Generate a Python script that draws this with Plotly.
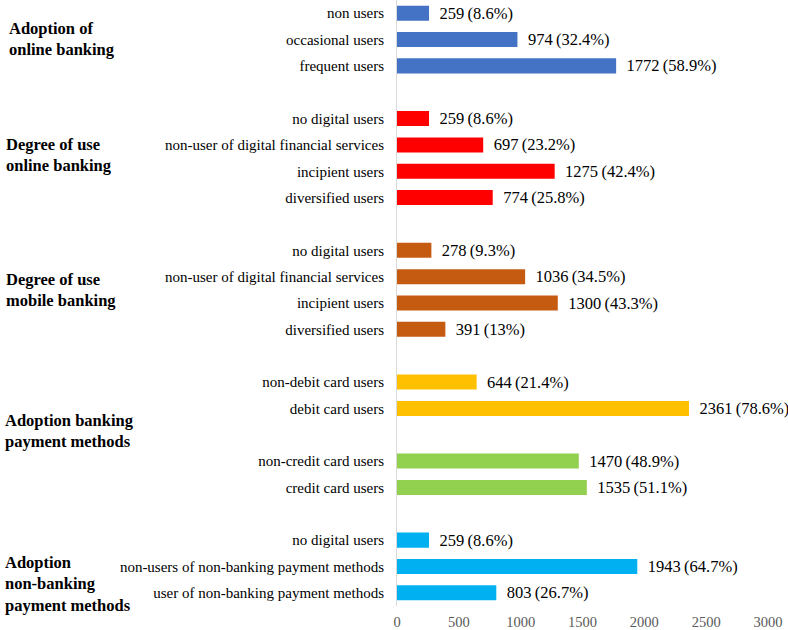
import plotly.graph_objects as go

# ---- data ----
g1_labels = ["non users", "occasional users", "frequent users"]
g1_values = [259, 974, 1772]
g1_pct = ["8.6%", "32.4%", "58.9%"]

g2_labels = ["no digital users", "non-user of digital financial services", "incipient users", "diversified users"]
g2_values = [259, 697, 1275, 774]
g2_pct = ["8.6%", "23.2%", "42.4%", "25.8%"]

g3_labels = ["no digital users", "non-user of digital financial services", "incipient users", "diversified users"]
g3_values = [278, 1036, 1300, 391]
g3_pct = ["9.3%", "34.5%", "43.3%", "13%"]

g4a_labels = ["non-debit card users", "debit card users"]
g4a_values = [644, 2361]
g4a_pct = ["21.4%", "78.6%"]

g4b_labels = ["non-credit card users", "credit card users"]
g4b_values = [1470, 1535]
g4b_pct = ["48.9%", "51.1%"]

g5_labels = ["no digital users", "non-users of non-banking payment methods", "user of non-banking payment methods"]
g5_values = [259, 1943, 803]
g5_pct = ["8.6%", "64.7%", "26.7%"]

group_titles = ["Adoption of<br>online banking",
                "Degree of use<br>online banking",
                "Degree of use<br>mobile banking",
                "Adoption banking<br>payment methods",
                "Adoption<br>non-banking<br>payment methods"]

x_ticks = [0, 500, 1000, 1500, 2000, 2500, 3000]

# ---- styling ----
FONT = "Liberation Serif, Times New Roman, serif"
subgroups = [
    (g1_labels, g1_values, g1_pct, "#4472C4", 0),
    (g2_labels, g2_values, g2_pct, "#FF0000", 1),
    (g3_labels, g3_values, g3_pct, "#C55A11", 2),
    (g4a_labels, g4a_values, g4a_pct, "#FFC000", 3),
    (g4b_labels, g4b_values, g4b_pct, "#92D050", 3),
    (g5_labels, g5_values, g5_pct, "#00B0F0", 4),
]
title_yshift = [1, 3, 0, 4, -18]
title_xshift = [-390, -393, -393, -394, -394]

fig = go.Figure()
tickvals, ticktext = [], []
title_pos = {}
slot = 0
for labels, values, pct, color, gi in subgroups:
    pos = list(range(slot, slot + len(labels)))
    slot += len(labels) + 1
    tickvals += pos
    ticktext += labels
    title_pos.setdefault(gi, []).extend(pos)
    fig.add_trace(go.Bar(
        x=values, y=pos, orientation="h",
        marker=dict(color=color, line=dict(width=0)),
        width=0.57,
        text=["\u00a0\u2009%d\u2009(%s)" % (v, p) for v, p in zip(values, pct)],
        textposition="outside",
        constraintext="none",
        textfont=dict(family=FONT, size=16.5, color="#000000"),
        cliponaxis=False,
        hoverinfo="skip",
        showlegend=False,
    ))

for gi, title in enumerate(group_titles):
    ps = title_pos[gi]
    fig.add_annotation(
        x=0, xref="paper", xanchor="left", xshift=title_xshift[gi],
        y=sum(ps) / len(ps), yref="y", yshift=title_yshift[gi],
        text="<b>%s</b>" % title, showarrow=False, align="left",
        font=dict(family=FONT, size=16.5, color="#000000"),
    )

fig.update_layout(
    width=788, height=630,
    margin=dict(l=397, r=20, t=0, b=24),
    plot_bgcolor="white", paper_bgcolor="white",
    xaxis=dict(range=[0, 3000], tickvals=x_ticks, showgrid=False, zeroline=False,
               showline=False, ticks="", automargin=False, ticklabelstandoff=5,
               tickfont=dict(family=FONT, size=14.5, color="#595959")),
    yaxis=dict(range=[slot - 1 - 0.5, -0.5], tickvals=tickvals, ticktext=ticktext,
               showgrid=False, zeroline=False, showline=True, linecolor="#D9D9D9", linewidth=1,
               ticks="", ticklabelstandoff=9, automargin=False,
               tickfont=dict(family=FONT, size=15, color="#000000")),
)

fig.write_html("out.html", config={"displayModeBar": False},
               post_script="document.body.style.margin='0';")
